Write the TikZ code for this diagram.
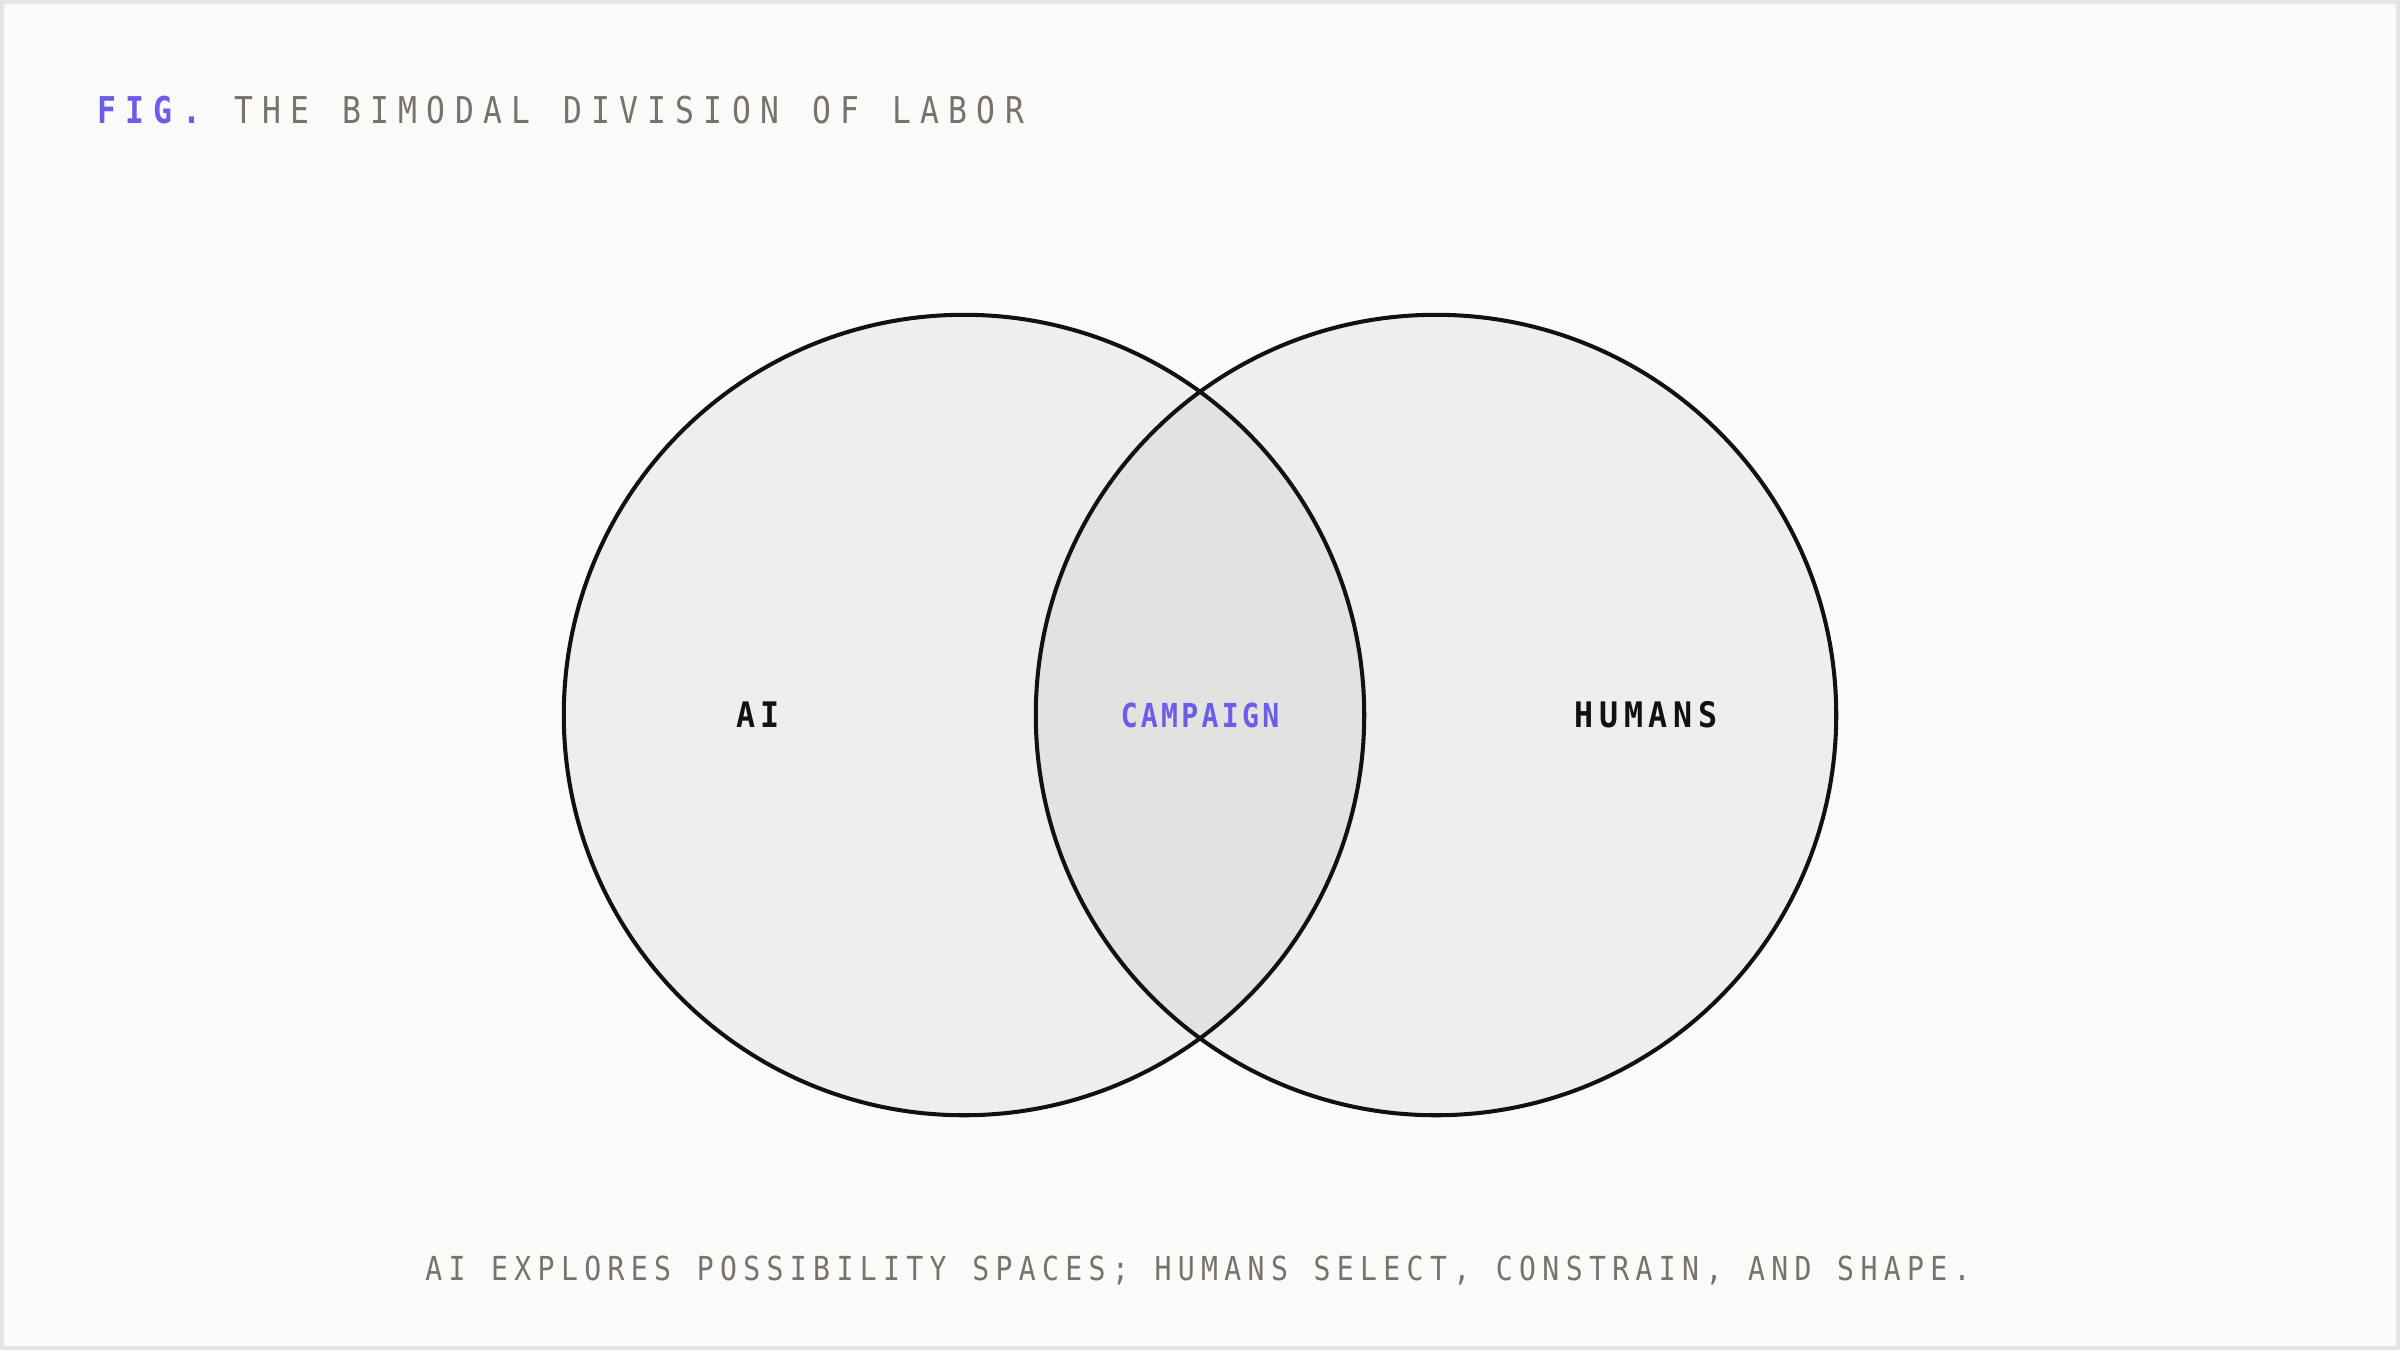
\documentclass[tikz,border=0pt]{standalone}
\usepackage{fontspec}
\newfontfamily\titlemono[FakeStretch=0.85,LetterSpace=25,WordSpace=1.18]{DejaVu Sans Mono}
\newfontfamily\capmono[FakeStretch=0.85,LetterSpace=19.3,WordSpace=1.1]{DejaVu Sans Mono}
\newfontfamily\setmono[FakeStretch=0.9,LetterSpace=16]{DejaVu Sans Mono}
\newfontfamily\midmono[FakeStretch=0.85,LetterSpace=10]{DejaVu Sans Mono}
\definecolor{pagebg}{HTML}{FAFAF9}
\definecolor{framegray}{HTML}{E5E5E3}
\definecolor{vennfill}{HTML}{EEEEED}
\definecolor{overlapfill}{HTML}{E2E2E1}
\definecolor{inkgray}{HTML}{78716C}
\definecolor{accent}{HTML}{6C5CE7}
\definecolor{ink}{HTML}{111111}

\begin{document}
\begin{tikzpicture}[x=0.01cm, y=-0.01cm,
  ring/.style={draw=ink, line width=1.15pt},
  setlabel/.style={text=ink, inner sep=0pt, font=\setmono\bfseries\fontsize{10pt}{12pt}\selectfont},
  midlabel/.style={text=accent, inner sep=0pt, font=\midmono\bfseries\fontsize{9.4pt}{11pt}\selectfont}]
  \fill[framegray] (0, 0) rectangle (2400, 1350);
  \fill[pagebg] (4, 4) rectangle (2396, 1346);
  \useasboundingbox (0, 0) rectangle (2400, 1350);

  \coordinate (cA) at (964, 715);
  \coordinate (cH) at (1436, 715);

  % two sets and their overlap
  \fill[vennfill] (cA) circle (4cm);
  \fill[vennfill] (cH) circle (4cm);
  \begin{scope}
    \clip (cA) circle (4cm);
    \fill[overlapfill] (cH) circle (4cm);
  \end{scope}
  \draw[ring] (cA) circle (4cm);
  \draw[ring] (cH) circle (4cm);

  \node[setlabel] (ai) at (758, 715) {AI};
  \node[midlabel] (campaign) at (1200, 715) {CAMPAIGN};
  \node[setlabel] (humans) at (1646, 715) {HUMANS};

  \node[anchor=base west, inner sep=0pt, text=inkgray,
        font=\titlemono\fontsize{10.5pt}{12pt}\selectfont] (title) at (97, 123)
    {\textcolor{accent}{\bfseries FIG.} THE BIMODAL DIVISION OF LABOR};
  \node[anchor=base, inner sep=0pt, text=inkgray,
        font=\capmono\fontsize{9.4pt}{11pt}\selectfont] (caption) at (1198, 1280)
    {AI EXPLORES POSSIBILITY SPACES; HUMANS SELECT, CONSTRAIN, AND SHAPE.};
\end{tikzpicture}
\end{document}
